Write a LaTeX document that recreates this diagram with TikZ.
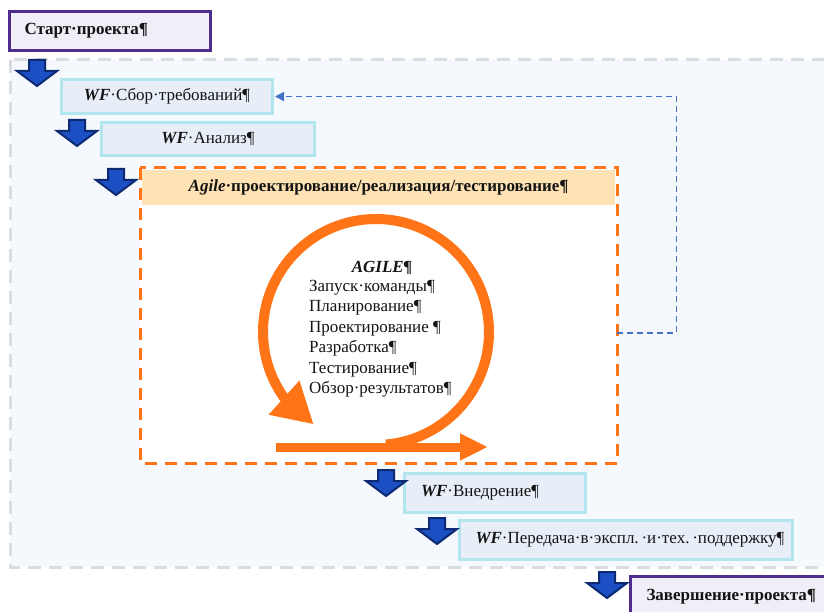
\documentclass[tikz,border=0pt]{standalone}
\usepackage{fontspec}
\setmainfont{Liberation Serif}
\usetikzlibrary{arrows.meta}

\definecolor{projpurple}{HTML}{4F2D8C}
\definecolor{projfill}{HTML}{F0EEF6}
\definecolor{regionfill}{HTML}{F5F8FC}
\definecolor{regionline}{HTML}{D9DCE0}
\definecolor{wfline}{HTML}{B2E6EF}
\definecolor{wffill}{HTML}{E8EEF7}
\definecolor{agileorange}{HTML}{FF7417}
\definecolor{agilehdrfill}{HTML}{FFE3B4}
\definecolor{loopblue}{HTML}{4472C4}
\definecolor{arrowfill}{HTML}{1D4FC4}
\definecolor{arrowline}{HTML}{0B2A72}
\definecolor{inktext}{HTML}{141414}

\tikzset{
  every node/.style={font=\fontsize{17}{20.5}\selectfont, text=inktext, inner sep=0pt},
  region/.style={fill=regionfill, draw=regionline, line width=3pt, dash pattern=on 13pt off 8pt},
  projbox/.style={draw=projpurple, fill=projfill, line width=3pt, anchor=north west,
    inner xsep=15pt, align=left, font=\fontsize{17}{20.5}\selectfont\bfseries},
  wfbox/.style={draw=wfline, fill=wffill, line width=3pt, anchor=north west, align=center},
  wfleft/.style={wfbox, align=left, inner xsep=16pt},
  agilebody/.style={fill=white, anchor=north west},
  agileborder/.style={draw=agileorange, line width=3pt, dash pattern=on 12pt off 8pt},
  agilehdr/.style={fill=agilehdrfill, anchor=north west, align=center,
    font=\fontsize{17}{20.5}\selectfont\bfseries},
  cycleline/.style={draw=agileorange, line width=10pt},
  loopline/.style={draw=loopblue, line width=1.8pt, dash pattern=on 6pt off 4pt,
    -{Triangle[width=9pt,length=9pt]}},
  stepdown/.pic={
    \filldraw[fill=arrowfill, draw=arrowline, line width=2pt, line join=miter]
      (-8,0) -- (8,0) -- (8,11) -- (20,11) -- (0,26) -- (-20,11) -- (-8,11) -- cycle;
  }
}

\newcommand{\wfmark}{{\bfseries\itshape WF}·}

\begin{document}
\begin{tikzpicture}[x=1pt, y=-1pt]
  \useasboundingbox (0,0) rectangle (824,612);
  \clip (0,0) rectangle (824,612);

  % shared background of the waterfall stages
  \draw[region] (10,60) rectangle (845,567);

  % start and finish of the project
  \node[projbox, minimum width=201pt, minimum height=39pt, text width=171pt] (start) at (8,10) {Старт·проекта¶};
  \node[projbox, minimum width=230pt, minimum height=40pt, text width=200pt, inner xsep=16pt] (finish) at (629,575) {Завершение·проекта¶};

  % waterfall stages
  \node[wfbox, minimum width=211pt, minimum height=34pt] (wfreq) at (60,78) {\wfmark Сбор·требований¶};
  \node[wfbox, minimum width=213pt, minimum height=33pt] (wfan) at (100,121) {\wfmark Анализ¶};
  \node[wfleft, minimum width=181pt, minimum height=39pt, text width=148pt] (wfimpl) at (403,472) {\wfmark Внедрение¶};
  \node[wfleft, minimum width=333pt, minimum height=39pt, text width=301pt] (wfsup) at (458,519)
    {\makebox[301pt][l]{\wfmark Передача·в·экспл.\,·и·тех.\,·поддержку¶}};

  % agile block
  \node[agilebody, minimum width=477pt, minimum height=295pt] (agile) at (140,168) {};
  \node[agilehdr, minimum width=473pt, minimum height=35pt] (agilehead) at (142,170)
    {{\itshape Agile}·проектирование/реализация/тестирование¶};
  \draw[agileborder] (agile.north west) rectangle (agile.south east);

  % iteration cycle
  \coordinate (loopc) at (376,332);
  \draw[cycleline, -{Triangle[width=43pt,length=40pt]}]
    (loopc) ++(85:113) arc[start angle=85, end angle=-215.5, radius=113] -- ++(42:40);
  \coordinate (runstart) at (276,447);
  \coordinate (runend) at (488,447);
  \draw[cycleline, line width=9pt, -{Triangle[width=25pt,length=28pt]}] (runstart) -- (runend);

  \node[font=\fontsize{17}{20.5}\selectfont\bfseries\itshape] (agiletitle) at (382,268) {AGILE¶};
  \node[anchor=north west, align=left] (agilesteps) at (309,280)
    {Запуск·команды¶\\Планирование¶\\Проектирование ¶\\Разработка¶\\Тестирование¶\\Обзор·результатов¶};

  % return to requirements gathering
  \draw[loopline, shorten >=1pt] ([yshift=-17.5pt]agile.east) -- ++(59,0) |- (wfreq.east);

  % transitions between stages
  \pic (s1) at (37,60) {stepdown};
  \pic (s2) at (77,120) {stepdown};
  \pic (s3) at (116,169) {stepdown};
  \pic (s4) at (386,470) {stepdown};
  \pic (s5) at (437,518) {stepdown};
  \pic (s6) at (607,572) {stepdown};
\end{tikzpicture}
\end{document}
